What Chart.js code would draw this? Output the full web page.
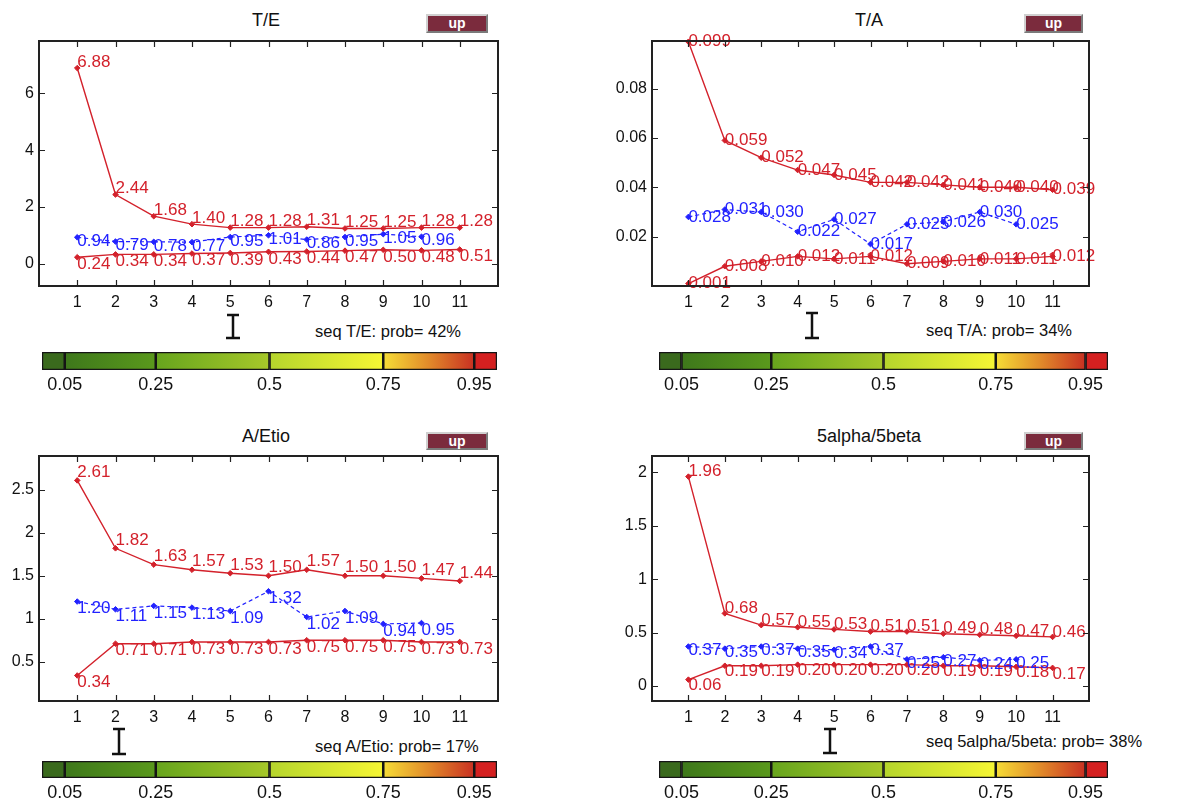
<!DOCTYPE html>
<html>
<head>
<meta charset="utf-8">
<script src="https://cdn.jsdelivr.net/npm/chart.js@4.4.1/dist/chart.umd.min.js"></script>
<style>
    body { margin: 0; background: #fff; width: 1189px; height: 802px; position: relative; overflow: hidden;
           font-family: "Liberation Sans", Arial, sans-serif; }
    canvas { position: absolute; }
    .ttl { position: absolute; font-size: 18px; transform: translate(-50%, -50%); white-space: nowrap; color: #111; }
    .up { position: absolute; background: #7b2b3d; color: #fff; font-weight: bold; font-size: 14px; line-height: 15px;
          text-align: center; box-sizing: border-box; border: 2px solid; border-color: #d0d0d0 #7a7a7a #7a7a7a #d0d0d0; }
    .seq { position: absolute; font-size: 16.5px; white-space: nowrap; transform: translateY(-50%); color: #111; }
</style>
</head>
<body>
<script>
// x positions shared by all four panels
const xTicks = [1, 2, 3, 4, 5, 6, 7, 8, 9, 10, 11];

// T/E
const teUpper = [6.88, 2.44, 1.68, 1.40, 1.28, 1.28, 1.31, 1.25, 1.25, 1.28, 1.28];
const teLower = [0.24, 0.34, 0.34, 0.37, 0.39, 0.43, 0.44, 0.47, 0.50, 0.48, 0.51];
const teSeq = [0.94, 0.79, 0.78, 0.77, 0.95, 1.01, 0.86, 0.95, 1.05, 0.96];
const teTicks = [0, 2, 4, 6];

// T/A
const taUpper = [0.099, 0.059, 0.052, 0.047, 0.045, 0.042, 0.042, 0.041, 0.040, 0.040, 0.039];
const taLower = [0.001, 0.008, 0.010, 0.012, 0.011, 0.012, 0.009, 0.010, 0.011, 0.011, 0.012];
const taSeq = [0.028, 0.031, 0.030, 0.022, 0.027, 0.017, 0.025, 0.026, 0.030, 0.025];
const taTicks = [0.02, 0.04, 0.06, 0.08];

// A/Etio
const aeUpper = [2.61, 1.82, 1.63, 1.57, 1.53, 1.50, 1.57, 1.50, 1.50, 1.47, 1.44];
const aeLower = [0.34, 0.71, 0.71, 0.73, 0.73, 0.73, 0.75, 0.75, 0.75, 0.73, 0.73];
const aeSeq = [1.20, 1.11, 1.15, 1.13, 1.09, 1.32, 1.02, 1.09, 0.94, 0.95];
const aeTicks = [0.5, 1, 1.5, 2, 2.5];

// 5alpha/5beta
const abUpper = [1.96, 0.68, 0.57, 0.55, 0.53, 0.51, 0.51, 0.49, 0.48, 0.47, 0.46];
const abLower = [0.06, 0.19, 0.19, 0.20, 0.20, 0.20, 0.20, 0.19, 0.19, 0.18, 0.17];
const abSeq = [0.37, 0.35, 0.37, 0.35, 0.34, 0.37, 0.25, 0.27, 0.24, 0.25];
const abTicks = [0, 0.5, 1, 1.5, 2];

// probability bar
const cbStops = [0, 0.05, 0.25, 0.5, 0.75, 0.95, 1];
const cbTicks = [0.05, 0.25, 0.5, 0.75, 0.95];
const probs = [42, 34, 17, 38];

const cbColours = [
    ["#3a6a1d", "#3a6a1d"],
    ["#3e781b", "#5a991c"],
    ["#67a51d", "#a7c82a"],
    ["#b5d52c", "#f6f634"],
    ["#f6dd36", "#e18a2a", "#c93022"],
    ["#d42020", "#d42020"]
];

const RED = "#d3212b";
const BLUE = "#2222ff";

const panels = [
    { title: "T/E", upper: teUpper, lower: teLower, seq: teSeq, ticks: teTicks, dec: 2,
      left: 0, top: 0, width: 520, yWidth: 39, yMin: -0.77, yMax: 7.83, dy: [-6, 7, 4],
      cb: { x: 42, y: 352, w: 455, h: 18, mark: [-37, -14] },
      seqPos: [315, 331], upPos: [426, 14, 62, 19], titlePos: [266, 20] },
    { title: "T/A", upper: taUpper, lower: taLower, seq: taSeq, ticks: taTicks, dec: 3,
      left: 600, top: 0, width: 500, yWidth: 52, yMin: 0, yMax: 0.0993, dy: [0, 0, 0],
      cb: { x: 659, y: 352, w: 449, h: 18, mark: [-39, -14] },
      seqPos: [926, 330], upPos: [1024, 14, 59, 19], titlePos: [869, 20] },
    { title: "A/Etio", upper: aeUpper, lower: aeLower, seq: aeSeq, ticks: aeTicks, dec: 2,
      left: 0, top: 415, width: 520, yWidth: 39, yMin: 0.043, yMax: 2.894, dy: [-8, 7, 7],
      cb: { x: 42, y: 761, w: 455, h: 17, mark: [-32, -7] },
      seqPos: [315, 746], upPos: [426, 432, 62, 18], titlePos: [266, 436] },
    { title: "5alpha/5beta", upper: abUpper, lower: abLower, seq: abSeq, ticks: abTicks, dec: 2,
      left: 600, top: 415, width: 500, yWidth: 52, yMin: -0.14, yMax: 2.153, dy: [-5, 6, 4],
      cb: { x: 659, y: 761, w: 449, h: 17, mark: [-32, -8] },
      seqPos: [926, 741], upPos: [1024, 432, 59, 18], titlePos: [869, 436] }
];

// matlab style box with inward ticks on all four sides
const boxTicks = {
    id: "boxTicks",
    afterDraw(chart) {
        const { ctx, chartArea: a, scales: { x, y } } = chart;
        ctx.save();
        ctx.strokeStyle = "#222";
        ctx.lineWidth = 1.2;
        ctx.beginPath();
        x.ticks.forEach(t => {
            const px = Math.round(x.getPixelForValue(t.value)) + 0.5;
            ctx.moveTo(px, a.top); ctx.lineTo(px, a.top + 6);
            ctx.moveTo(px, a.bottom); ctx.lineTo(px, a.bottom - 6);
        });
        y.ticks.forEach(t => {
            const py = Math.round(y.getPixelForValue(t.value)) + 0.5;
            ctx.moveTo(a.left, py); ctx.lineTo(a.left + 6, py);
            ctx.moveTo(a.right, py); ctx.lineTo(a.right - 6, py);
        });
        ctx.stroke();
        ctx.lineWidth = 2;
        ctx.strokeRect(a.left, a.top, a.right - a.left, a.bottom - a.top);
        ctx.restore();
    }
};

// value text next to every point
const valueLabels = {
    id: "valueLabels",
    afterDatasetsDraw(chart) {
        const ctx = chart.ctx;
        chart.data.datasets.forEach((ds, i) => {
            const meta = chart.getDatasetMeta(i);
            ctx.save();
            ctx.fillStyle = ds.labelColour;
            ctx.font = '17px "Liberation Sans", Arial, sans-serif';
            ctx.textAlign = "left";
            ctx.textBaseline = "middle";
            meta.data.forEach((pt, j) => {
                ctx.fillText(ds.data[j].toFixed(ds.decimals), pt.x, pt.y + ds.labelDy);
            });
            ctx.restore();
        });
    }
};

// the I-beam marker above the probability bar
const probMarker = {
    id: "probMarker",
    afterDraw(chart, args, opts) {
        const { ctx, chartArea: a, scales: { x } } = chart;
        const px = Math.round(x.getPixelForValue(opts.value / 100));
        const y0 = a.top + opts.mark[0], y1 = a.top + opts.mark[1];
        ctx.save();
        ctx.strokeStyle = "#111";
        ctx.lineWidth = 2.5;
        ctx.beginPath();
        ctx.moveTo(px, y0); ctx.lineTo(px, y1);
        ctx.moveTo(px - 6, y0); ctx.lineTo(px + 6, y0);
        ctx.moveTo(px - 7, y1); ctx.lineTo(px + 7, y1);
        ctx.stroke();
        ctx.restore();
    }
};

function addCanvas(left, top, w, h) {
    const c = document.createElement("canvas");
    c.width = w; c.height = h;
    c.style.left = left + "px"; c.style.top = top + "px";
    c.style.width = w + "px"; c.style.height = h + "px";
    document.body.appendChild(c);
    return c.getContext("2d");
}

function addDiv(cls, text, css) {
    const d = document.createElement("div");
    d.className = cls;
    d.textContent = text;
    Object.assign(d.style, css);
    document.body.appendChild(d);
}

const tickFont = { family: '"Liberation Sans", Arial, sans-serif', size: 16 };

panels.forEach((p, k) => {
    addDiv("ttl", p.title, { left: p.titlePos[0] + "px", top: p.titlePos[1] + "px" });
    addDiv("up", "up", { left: p.upPos[0] + "px", top: p.upPos[1] + "px",
                         width: p.upPos[2] + "px", height: p.upPos[3] + "px" });
    addDiv("seq", "seq " + p.title + ": prob= " + probs[k] + "%", { left: p.seqPos[0] + "px", top: p.seqPos[1] + "px" });

    const plotRight = p.left < 600 ? 498 : 1089;
    const lineCtx = addCanvas(p.left, p.top, p.width, 311);

    const mk = (arr, colour, dash, dy) => ({
        data: arr,
        borderColor: colour,
        backgroundColor: colour,
        labelColour: colour,
        labelDy: dy,
        decimals: p.dec,
        borderWidth: dash ? 1.2 : 1.4,
        borderDash: dash ? [4, 3] : [],
        pointStyle: "rectRot",
        pointRadius: 2.8,
        pointBorderWidth: 1,
        tension: 0,
        clip: false
    });

    new Chart(lineCtx, {
        type: "line",
        data: {
            labels: xTicks,
            datasets: [
                mk(p.upper, RED, false, p.dy[0]),
                mk(p.lower, RED, false, p.dy[1]),
                mk(p.seq, BLUE, true, p.dy[2])
            ]
        },
        options: {
            responsive: false,
            animation: false,
            layout: { padding: { top: 41, left: 0, right: p.left + p.width - plotRight, bottom: 0 } },
            plugins: { legend: { display: false }, tooltip: { enabled: false } },
            scales: {
                x: {
                    type: "linear", min: 0, max: 12,
                    grid: { display: false, drawTicks: false },
                    border: { display: false },
                    afterBuildTicks: s => { s.ticks = xTicks.map(v => ({ value: v })); },
                    afterFit: s => { s.height = 25; },
                    ticks: { color: "#111", font: tickFont, padding: 7, maxRotation: 0, autoSkip: false }
                },
                y: {
                    min: p.yMin, max: p.yMax,
                    grid: { display: false, drawTicks: false },
                    border: { display: false },
                    afterBuildTicks: s => { s.ticks = p.ticks.map(v => ({ value: v })); },
                    afterFit: s => { s.width = p.yWidth; },
                    ticks: { color: "#111", font: tickFont, padding: 5, callback: v => String(v) }
                }
            }
        },
        plugins: [boxTicks, valueLabels]
    });

    // probability colour bar
    const cb = p.cb;
    const cbLeft = p.left, cbW = p.left < 600 ? 540 : 560;
    const cbCtx = addCanvas(cbLeft, cb.y - 50, cbW, 50 + cb.h + 30);
    const segs = cbStops.slice(0, -1).map((s0, i) => {
        const s1 = cbStops[i + 1];
        return {
            data: [[s0, s1]],
            backgroundColor: c => {
                const chart = c.chart;
                if (!chart.chartArea) return cbColours[i][0];
                const xs = chart.scales.x;
                const g = chart.ctx.createLinearGradient(xs.getPixelForValue(s0), 0, xs.getPixelForValue(s1), 0);
                const cols = cbColours[i];
                cols.forEach((col, j) => g.addColorStop(j / (cols.length - 1), col));
                return g;
            },
            borderColor: "#151515",
            borderWidth: 1.6,
            borderSkipped: false,
            barPercentage: 1,
            categoryPercentage: 1,
            grouped: false
        };
    });

    new Chart(cbCtx, {
        type: "bar",
        data: { labels: ["p"], datasets: segs },
        options: {
            indexAxis: "y",
            responsive: false,
            animation: false,
            layout: { padding: { top: 50, left: cb.x - cbLeft, right: cbLeft + cbW - cb.x - cb.w, bottom: 0 } },
            plugins: {
                legend: { display: false }, tooltip: { enabled: false },
                probMarker: { value: probs[k], mark: cb.mark }
            },
            scales: {
                x: {
                    type: "linear", min: 0, max: 1,
                    grid: { display: false, drawTicks: false },
                    border: { display: false },
                    afterBuildTicks: s => { s.ticks = cbTicks.map(v => ({ value: v })); },
                    afterFit: s => { s.height = 30; },
                    ticks: { color: "#111", font: { family: tickFont.family, size: 18 }, padding: 4,
                             maxRotation: 0, autoSkip: false, callback: v => String(v) }
                },
                y: { display: false }
            }
        },
        plugins: [probMarker]
    });
});
</script>
</body>
</html>
